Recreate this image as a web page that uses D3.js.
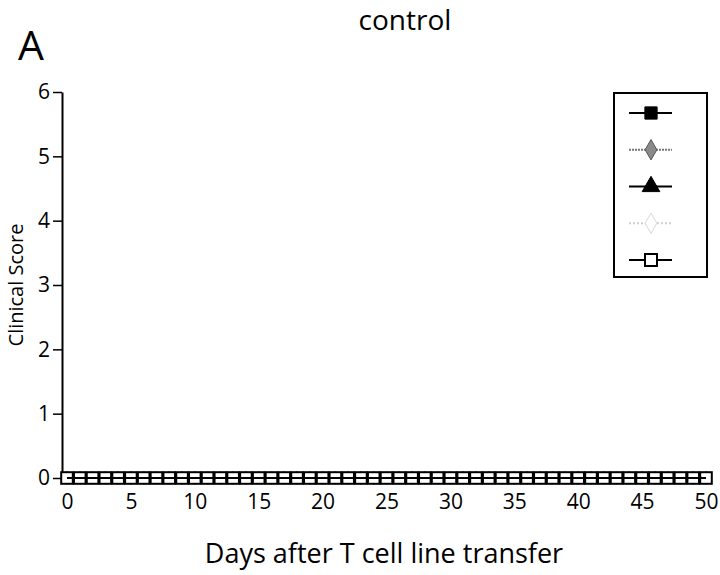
<!DOCTYPE html>
<html>
<head>
<meta charset="utf-8">
<script src="https://cdn.jsdelivr.net/npm/d3@7"></script>
<style>
  body { margin: 0; background: #fff; }
  text { font-family: "Open Sans", sans-serif; fill: #000; }
</style>
</head>
<body>
<div id="chart"></div>
<script>
// days 0..50, every group scored 0 in the control experiment
var days = [0,1,2,3,4,5,6,7,8,9,10,11,12,13,14,15,16,17,18,19,20,21,22,23,24,25,
            26,27,28,29,30,31,32,33,34,35,36,37,38,39,40,41,42,43,44,45,46,47,48,49,50];
var seriesNames = ["s1", "s2", "s3", "s4", "s5"];
var scoreS1 = [0,0,0,0,0,0,0,0,0,0,0,0,0,0,0,0,0,0,0,0,0,0,0,0,0,0,0,0,0,0,0,0,0,0,0,0,0,0,0,0,0,0,0,0,0,0,0,0,0,0,0];
var scoreS2 = [0,0,0,0,0,0,0,0,0,0,0,0,0,0,0,0,0,0,0,0,0,0,0,0,0,0,0,0,0,0,0,0,0,0,0,0,0,0,0,0,0,0,0,0,0,0,0,0,0,0,0];
var scoreS3 = [0,0,0,0,0,0,0,0,0,0,0,0,0,0,0,0,0,0,0,0,0,0,0,0,0,0,0,0,0,0,0,0,0,0,0,0,0,0,0,0,0,0,0,0,0,0,0,0,0,0,0];
var scoreS4 = [0,0,0,0,0,0,0,0,0,0,0,0,0,0,0,0,0,0,0,0,0,0,0,0,0,0,0,0,0,0,0,0,0,0,0,0,0,0,0,0,0,0,0,0,0,0,0,0,0,0,0];
var scoreS5 = [0,0,0,0,0,0,0,0,0,0,0,0,0,0,0,0,0,0,0,0,0,0,0,0,0,0,0,0,0,0,0,0,0,0,0,0,0,0,0,0,0,0,0,0,0,0,0,0,0,0,0];
var yTicks = [0, 1, 2, 3, 4, 5, 6];
var xTicks = [0, 5, 10, 15, 20, 25, 30, 35, 40, 45, 50];

var styles = [
  {marker: "square",   fill: "#000", stroke: "#000", line: "#000", dash: null},
  {marker: "diamond",  fill: "#8a8a8a", stroke: "#555", line: "#777", dash: "2,1"},
  {marker: "triangle", fill: "#000", stroke: "#000", line: "#000", dash: null},
  {marker: "diamond",  fill: "#fff", stroke: "#d8d8d8", line: "#d0d0d0", dash: "2,2"},
  {marker: "square",   fill: "#fff", stroke: "#000", line: "#000", dash: null}
];
var allScores = [scoreS1, scoreS2, scoreS3, scoreS4, scoreS5];

var width = 720, height = 575;

var svg = d3.select("#chart").append("svg")
  .attr("width", width)
  .attr("height", height);

var x = d3.scaleLinear().domain([0, 50]).range([67, 706]);
var y = d3.scaleLinear().domain([0, 6]).range([478, 92]);

function markerPath(type, size) {
  if (type === "square") return d3.symbol().type(d3.symbolSquare).size(size)();
  if (type === "triangle") return d3.symbol().type(d3.symbolTriangle).size(size * 0.9)();
  return d3.symbol().type(d3.symbolDiamond).size(size * 0.8)();
}

// y axis
var yAxis = svg.append("g")
  .attr("transform", "translate(62,0)")
  .call(d3.axisLeft(y).tickValues(yTicks).tickFormat(d3.format("d"))
    .tickSize(9).tickPadding(3).tickSizeOuter(0));
yAxis.select(".domain").attr("stroke-width", 2);
yAxis.selectAll(".tick line").attr("stroke-width", 1.5);
yAxis.selectAll("text").style("font-size", "21px");

// x axis, labels only
var xAxis = svg.append("g")
  .attr("transform", "translate(0,478)")
  .call(d3.axisBottom(x).tickValues(xTicks).tickSize(0).tickPadding(16));
xAxis.select(".domain").remove();
xAxis.selectAll("text").style("font-size", "21px");

// series
var line = d3.line()
  .x(function(d, i) { return x(days[i]); })
  .y(function(d) { return y(d); });

allScores.forEach(function(scores, k) {
  var st = styles[k];
  var g = svg.append("g");
  g.append("path")
    .datum(scores)
    .attr("d", line)
    .attr("fill", "none")
    .attr("stroke", st.line)
    .attr("stroke-width", 2)
    .attr("stroke-dasharray", st.dash);
  if (k === 4) {
    g.selectAll("rect")
      .data(scores)
      .enter().append("rect")
      .attr("x", function(d, i) { return x(days[i]) - 5.8; })
      .attr("y", function(d) { return y(d) - 5.8; })
      .attr("width", 11.6)
      .attr("height", 11.6)
      .attr("fill", "#fff")
      .attr("stroke", "#000")
      .attr("stroke-width", 2);
    g.append("path")
      .datum(scores)
      .attr("d", line)
      .attr("fill", "none")
      .attr("stroke", "#000")
      .attr("stroke-width", 2);
  } else {
    g.selectAll("path.m")
      .data(scores)
      .enter().append("path")
      .attr("class", "m")
      .attr("transform", function(d, i) { return "translate(" + x(days[i]) + "," + y(d) + ")"; })
      .attr("d", markerPath(st.marker, 60))
      .attr("fill", st.fill)
      .attr("stroke", st.stroke);
  }
});

// legend
var legend = svg.append("g");
legend.append("rect")
  .attr("x", 614).attr("y", 93)
  .attr("width", 93).attr("height", 184)
  .attr("fill", "#fff")
  .attr("stroke", "#000")
  .attr("stroke-width", 2);

var legendY = d3.scalePoint().domain(seriesNames).range([113, 260]);

seriesNames.forEach(function(name, k) {
  var st = styles[k];
  var ly = legendY(name);
  legend.append("line")
    .attr("x1", 629).attr("x2", 672)
    .attr("y1", ly).attr("y2", ly)
    .attr("stroke", st.line)
    .attr("stroke-width", 2)
    .attr("stroke-dasharray", st.dash);
  if (k === 4) {
    legend.append("rect")
      .attr("x", 651 - 6).attr("y", ly - 6)
      .attr("width", 12).attr("height", 12)
      .attr("fill", "#fff")
      .attr("stroke", "#000")
      .attr("stroke-width", 2);
  } else {
    legend.append("path")
      .attr("transform", "translate(651," + ly + ")")
      .attr("d", markerPath(st.marker, 150))
      .attr("fill", st.fill)
      .attr("stroke", st.stroke);
  }
});

// titles
svg.append("text")
  .attr("x", 405).attr("y", 30)
  .attr("text-anchor", "middle")
  .style("font-size", "28px")
  .text("control");

svg.append("text")
  .attr("x", 18).attr("y", 60)
  .style("font-size", "41px")
  .text("A");

svg.append("text")
  .attr("transform", "translate(23,285) rotate(-90)")
  .attr("text-anchor", "middle")
  .style("font-size", "20px")
  .text("Clinical Score");

svg.append("text")
  .attr("x", 384).attr("y", 563)
  .attr("text-anchor", "middle")
  .style("font-size", "27px")
  .text("Days after T cell line transfer");
</script>
</body>
</html>
